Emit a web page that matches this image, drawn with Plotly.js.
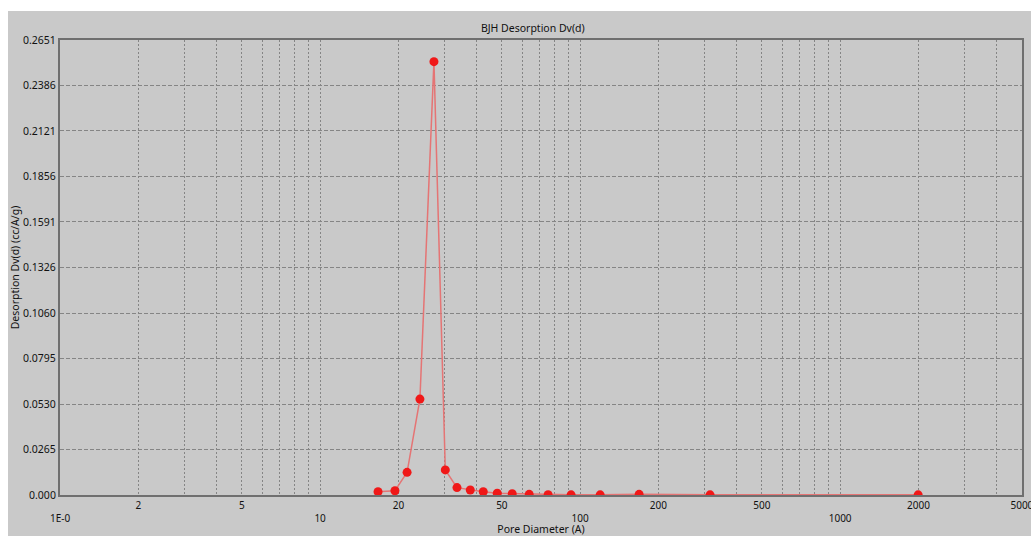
<!DOCTYPE html>
<html>
<head>
<meta charset="utf-8">
<script src="https://cdn.plot.ly/plotly-3.0.1.min.js"></script>
<style>
  html, body { margin: 0; padding: 0; background: #ffffff; width: 1031px; height: 536px; overflow: hidden; }
  #chart { position: absolute; left: 8px; top: 11px; width: 1023px; height: 525px; }
</style>
</head>
<body>
<div id="chart"></div>
<script>
// Pore diameter (A) and desorption Dv(d) (cc/A/g)
const poreDiameter = [16.7, 19.4, 21.6, 24.2, 27.4, 30.3, 33.6, 37.8, 42.4, 48.0, 54.8, 63.7, 75.3, 92.3, 119.4, 168.6, 316, 1995];
const desorptionDv = [0.0019, 0.0025, 0.0132, 0.0559, 0.2525, 0.0146, 0.0043, 0.0029, 0.0019, 0.0010, 0.0008, 0.0004, 0.0002, 0.0001, 0.0001, 0.0004, 0.0001, 0.0001];

// Axis ticks
const xTickVals = [1,2,3,4,5,6,7,8,9,10,20,30,40,50,60,70,80,90,100,200,300,400,500,600,700,800,900,1000,2000,3000,4000,5000];
const xTickText = [' <br>1E-0','2','','','5','','','','',' <br>10','20','','','50','','','','',' <br>100','200','','','500','','','','',' <br>1000','2000','','','5000'];
const yTickVals = [0, 0.0265, 0.0530, 0.0795, 0.1060, 0.1326, 0.1591, 0.1856, 0.2121, 0.2386, 0.2651];
const yTickText = ['0.000','0.0265','0.0530','0.0795','0.1060','0.1326','0.1591','0.1856','0.2121','0.2386','0.2651'];

const trace = {
  x: poreDiameter,
  y: desorptionDv,
  type: 'scatter',
  mode: 'lines+markers',
  line: { color: '#e57474', width: 1.5 },
  marker: { color: '#f01818', size: 9 },
  cliponaxis: true,
  hoverinfo: 'x+y'
};

const fontFam = '"Noto Sans", "Open Sans", sans-serif';

const layout = {
  width: 1023,
  height: 525,
  paper_bgcolor: '#c9c9c9',
  plot_bgcolor: '#c9c9c9',
  margin: { l: 52, r: 9, t: 29, b: 41, pad: 0 },
  showlegend: false,
  font: { family: fontFam, size: 10, color: '#111111' },
  title: {
    text: 'BJH Desorption Dv(d)',
    font: { family: fontFam, size: 10.5, color: '#111111' },
    x: 0.513, xanchor: 'center',
    y: 0.967, yanchor: 'middle'
  },
  xaxis: {
    type: 'log',
    range: [-0.0004, Math.log10(5000) + 0.0004],
    tickmode: 'array',
    tickvals: xTickVals,
    ticktext: xTickText,
    ticklabeloverflow: 'allow',
    showgrid: true,
    gridcolor: '#858585',
    griddash: '2px,2px',
    gridwidth: 1,
    showline: true,
    linecolor: '#6f6f6f',
    linewidth: 2,
    mirror: true,
    ticks: '',
    zeroline: false,
    tickfont: { family: fontFam, size: 10, color: '#111111' },
    title: { text: 'Pore Diameter (A)', font: { family: fontFam, size: 10.5, color: '#111111' }, standoff: 3 }
  },
  yaxis: {
    range: [0, 0.2651],
    tickmode: 'array',
    tickvals: yTickVals,
    ticktext: yTickText,
    showgrid: true,
    gridcolor: '#858585',
    griddash: '4px,2px',
    gridwidth: 1,
    showline: true,
    linecolor: '#6f6f6f',
    linewidth: 2,
    mirror: true,
    ticks: '',
    zeroline: false,
    tickfont: { family: fontFam, size: 10.5, color: '#111111' },
    title: { text: 'Desorption Dv(d) (cc/A/g)', font: { family: fontFam, size: 10.5, color: '#111111' }, standoff: 4 }
  }
};

Plotly.newPlot('chart', [trace], layout, { displayModeBar: false, staticPlot: true });
</script>
</body>
</html>
